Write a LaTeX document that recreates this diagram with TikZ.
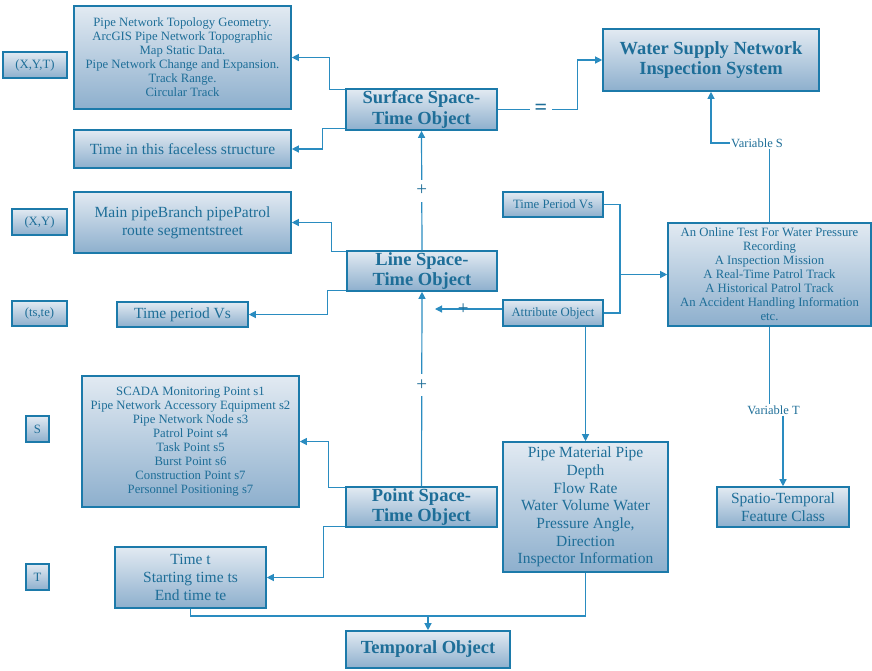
\documentclass[tikz,border=0pt]{standalone}
\usepackage{fontspec}
\setmainfont{Liberation Serif}
\usetikzlibrary{arrows.meta}
\definecolor{bord}{HTML}{1C7AAA}
\definecolor{txt}{HTML}{1E6E98}
\definecolor{conn}{HTML}{2A8CC0}
\definecolor{ftop}{HTML}{E2EAF2}
\definecolor{fbot}{HTML}{8DAFCD}
\newcommand\boxat[7]{\node[box,#6,minimum width={(#4)-(#2)},minimum height={(#5)-(#3)}] (#1) at ({((#2)+(#4))/2},{((#3)+(#5))/2}) {#7};}
\begin{document}
\begin{tikzpicture}[x=1pt,y=-1pt,
  box/.style={draw=bord, line width=1.6pt, top color=ftop, bottom color=fbot, text=txt, align=center, inner sep=0pt, font=\fontsize{12.7}{14}\selectfont},
  small/.style={font=\fontsize{12.7}{14}\selectfont},
  med/.style={font=\fontsize{15.5}{17.7}\selectfont},
  bigb/.style={font=\fontsize{18.5}{20.5}\selectfont\bfseries},
  cline/.style={draw=conn, line width=1.2pt},
  arr/.style={cline, -{Triangle[width=7pt,length=7pt]}},
  lab/.style={text=txt, inner sep=1pt, font=\fontsize{12.5}{14}\selectfont},
  pluslab/.style={fill=white, text=txt, font=\fontsize{19}{19}\selectfont, inner sep=0pt, minimum height=22pt, minimum width=12pt},
  plusnf/.style={text=txt, font=\fontsize{19}{19}\selectfont, inner sep=0pt},
  eqlab/.style={fill=white, text=txt, font=\fontsize{22}{22}\selectfont\bfseries, inner sep=0pt, minimum width=22pt, minimum height=8pt}
]
\useasboundingbox (0,0) rectangle (872,670);

% boxes
\boxat{xyt}{3}{52}{67}{78}{small}{(X,Y,T)}
\boxat{topo}{74}{6}{291}{109}{small}{Pipe Network Topology Geometry.\\ArcGIS Pipe Network Topographic\\Map Static Data.\\Pipe Network Change and Expansion.\\Track Range.\\Circular Track}
\boxat{surf}{346}{89}{497}{130}{bigb}{Surface Space-\\Time Object}
\boxat{faceless}{74}{130}{291}{168}{med}{Time in this faceless structure}
\boxat{water}{603}{29}{819}{91}{bigb}{Water Supply Network\\Inspection System}
\boxat{xy}{12}{209}{67}{235}{small}{(X,Y)}
\boxat{mainpipe}{74}{192}{291}{253}{med}{Main pipeBranch pipePatrol\\route segmentstreet}
\boxat{linebox}{347}{251}{497}{291}{bigb}{Line Space-\\Time Object}
\boxat{tste}{12}{301}{67}{326}{small}{(ts,te)}
\boxat{tpvs}{117}{302}{248}{327}{med}{Time period Vs}
\boxat{tpvr}{503}{192}{603}{217}{small}{Time Period Vs}
\boxat{attr}{503}{300}{603}{326}{small}{Attribute Object}
\boxat{online}{668}{223}{871}{326}{small}{An Online Test For Water Pressure\\Recording\\A Inspection Mission\\A Real-Time Patrol Track\\A Historical Patrol Track\\An Accident Handling Information\\etc.}
\boxat{sbox}{26}{416}{49}{442}{small}{S}
\boxat{scada}{82}{376}{299}{507}{small}{SCADA Monitoring Point s1\\Pipe Network Accessory Equipment s2\\Pipe Network Node s3\\Patrol Point s4\\Task Point s5\\Burst Point s6\\Construction Point s7\\Personnel Positioning s7}
\boxat{point}{346}{487}{497}{527}{bigb}{Point Space-\\Time Object}
\boxat{pipemat}{503}{442}{668}{572}{med}{Pipe Material Pipe\\Depth\\Flow Rate\\Water Volume Water\\Pressure Angle,\\Direction\\Inspector Information}
\boxat{spatio}{717}{487}{849}{527}{med}{Spatio-Temporal\\Feature Class}
\boxat{tbox}{26}{564}{49}{590}{small}{T}
\boxat{timet}{115}{547}{266}{608}{med}{Time t\\Starting time ts\\End time te}
\boxat{temporal}{346}{631}{510}{668}{bigb}{Temporal Object}

% labels
\node[lab] (vs) at (757,143) {Variable S};
\node[lab] (vt) at (773.5,410) {Variable T};

% connectors
\draw[arr] ([yshift=-1.5pt]surf.north west) -- ++(-16,0) |- (topo.east);
\draw[arr] ([yshift=2pt]surf.south west) -- ++(-23,0) |- (faceless.east);
\draw[arr] (surf.east) -- node[eqlab,pos=0.54]{=} ++(80,0) |- (water.west);
\draw[cline] (online.north) -- (online.north |- vs.south);
\draw[arr] (vs.west) -| (water.south);
\draw[cline] (online.south) -- (online.south |- vt.north);
\draw[arr] (vt.south -| spatio.north) -- (spatio.north);

\draw[arr] (linebox.north) -- node[pluslab]{+} (surf.south);
\draw[arr] (point.north) -- node[pluslab,pos=0.52]{+} (linebox.south);
\coordinate (aj) at (435,309);
\draw[arr] (attr.west |- aj) -- node[plusnf,pos=0.58]{+} (aj);

\draw[arr] ([yshift=-1.5pt]linebox.north west) -- ++(-15,0) |- (mainpipe.east);
\draw[arr] ([yshift=1.5pt]linebox.south west) -- ++(-19,0) |- (tpvs.east);

\coordinate (jn) at (620,274.5);
\draw[cline] (tpvr.east) -| (jn);
\draw[cline] (attr.east) -| (jn);
\draw[arr] (jn) -- (online.west);
\draw[arr] (attr.south -| pipemat.north) -- (pipemat.north);

\draw[arr] ([yshift=-1.5pt]point.north west) -- ++(-17,0) |- (scada.east);
\draw[arr] ([yshift=1.5pt]point.south west) -- ++(-22,0) |- (timet.east);

\coordinate (tj) at (428,616);
\draw[cline] (timet.south) |- (tj);
\draw[cline] (pipemat.south) |- (tj);
\draw[arr] (tj) -- (temporal.north);
\end{tikzpicture}
\end{document}
